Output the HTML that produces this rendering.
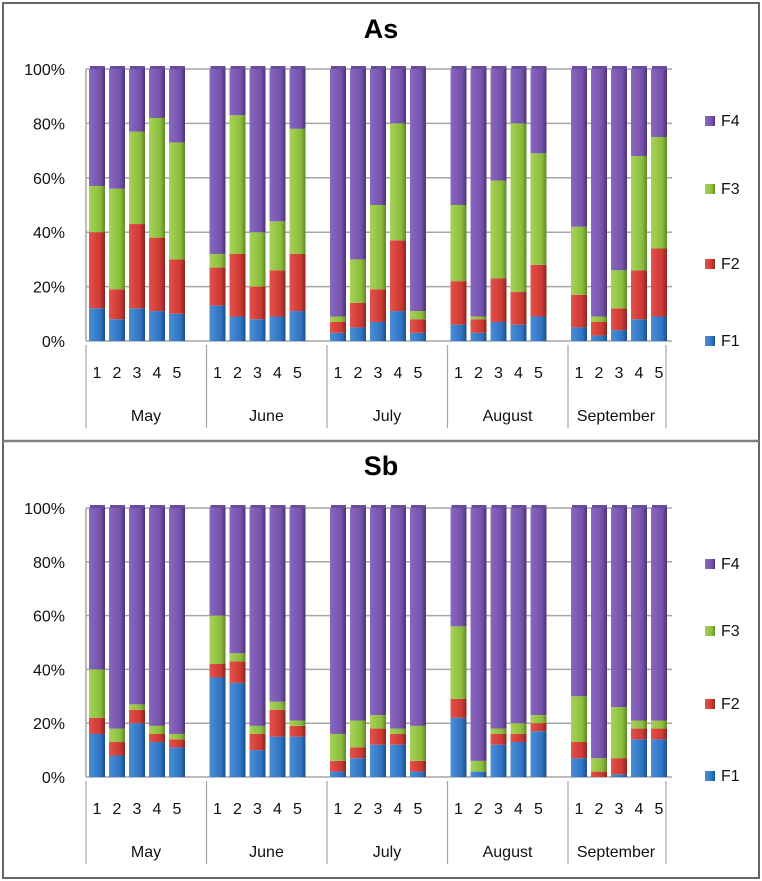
<!DOCTYPE html>
<html><head><meta charset="utf-8"><style>
html,body{margin:0;padding:0;background:#fff;}
svg{display:block;font-family:"Liberation Sans",sans-serif;}
</style></head><body>
<svg id="chart" width="762" height="881" viewBox="0 0 762 881" xmlns="http://www.w3.org/2000/svg">
<defs>
<linearGradient id="g0" x1="0" x2="1" y1="0" y2="0"><stop offset="0" stop-color="#4a8ed6"/><stop offset="0.7" stop-color="#2f74c4"/><stop offset="1" stop-color="#1c4f8a"/></linearGradient>
<linearGradient id="g1" x1="0" x2="1" y1="0" y2="0"><stop offset="0" stop-color="#e4504a"/><stop offset="0.7" stop-color="#cc3a33"/><stop offset="1" stop-color="#8e2420"/></linearGradient>
<linearGradient id="g2" x1="0" x2="1" y1="0" y2="0"><stop offset="0" stop-color="#a6d257"/><stop offset="0.7" stop-color="#8cbd3d"/><stop offset="1" stop-color="#5e8a24"/></linearGradient>
<linearGradient id="g3" x1="0" x2="1" y1="0" y2="0"><stop offset="0" stop-color="#8a68bf"/><stop offset="0.7" stop-color="#7552ab"/><stop offset="1" stop-color="#4d3378"/></linearGradient>
</defs>
<rect x="3" y="3" width="756" height="875" fill="#fff" stroke="#666" stroke-width="2"/>
<line x1="3" y1="441" x2="759" y2="441" stroke="#808080" stroke-width="2.5"/>
</svg>
<script>
const months = ["May","June","July","August","September"];
const samples = ["1","2","3","4","5"];
const seriesNames = ["F1","F2","F3","F4"];
const yTicks = [0,20,40,60,80,100];
const yTickLabels = ["0%","20%","40%","60%","80%","100%"];

const asF1 = [12,8,12,11,10, 13,9,8,9,11, 3,5,7,11,3, 6,3,7,6,9, 5,2,4,8,9];
const asF2 = [28,11,31,27,20, 14,23,12,17,21, 4,9,12,26,5, 16,5,16,12,19, 12,5,8,18,25];
const asF3 = [17,37,34,44,43, 5,51,20,18,46, 2,16,31,43,3, 28,1,36,62,41, 25,2,14,42,41];
const asF4 = [43,44,23,18,27, 68,17,60,56,22, 91,70,50,20,89, 50,91,41,20,31, 58,91,74,32,25];

const sbF1 = [16,8,20,13,11, 37,35,10,15,15, 2,7,12,12,2, 22,2,12,13,17, 7,0,1,14,14];
const sbF2 = [6,5,5,3,3, 5,8,6,10,4, 4,4,6,4,4, 7,0,4,3,3, 6,2,6,4,4];
const sbF3 = [18,5,2,3,2, 18,3,3,3,2, 10,10,5,2,13, 27,4,2,4,3, 17,5,19,3,3];
const sbF4 = [60,82,73,81,84, 40,54,81,72,79, 84,79,77,82,81, 44,94,82,80,77, 70,93,74,79,79];

const NS = "http://www.w3.org/2000/svg";
const svg = document.getElementById("chart");
function mk(tag, attrs, parent){
  const e = document.createElementNS(NS, tag);
  for (const k in attrs) e.setAttribute(k, attrs[k]);
  (parent||svg).appendChild(e);
  return e;
}

function drawPanel(key, title, series, p){
  const g = mk("g", {});
  
  
  const y = v => p.y0 - (p.y0 - p.y100) * v / 100;
  const t = mk("text", {x: 381, y: p.titleY, "text-anchor": "middle", "font-size": 27, "font-weight": "bold", fill: "#000"}, g);
  t.textContent = title;
  
  
  yTicks.forEach((v, i) => {
    const ln = mk("line", {x1: 86, x2: 672, y1: y(v), y2: y(v), stroke: "#a6a6a6", "stroke-width": 1.5}, g);
    
    
    const lb = mk("text", {x: 65, y: y(v) + 6, "text-anchor": "end", "font-size": 16, fill: "#111"}, g);
    lb.textContent = yTickLabels[i];
    
    
  });
  const wall = mk("line", {x1: 86, x2: 86, y1: y(100), y2: y(0), stroke: "#a6a6a6", "stroke-width": 1.5}, g);
  
  
  const n = series[0].length;
  for (let i = 0; i < n; i++){
    const gi = Math.floor(i / 5), bi = i % 5;
    const bx = 89 + gi * 120.5 + bi * 20;
    let total = 0; series.forEach(s => total += s[i]);
    let acc = 0;
    series.forEach((s, si) => {
      const v = s[i] / total * 100;
      const r = mk("rect", {x: bx, y: y(acc + v), width: 16, height: Math.max(0, y(acc) - y(acc + v)), fill: "url(#g" + si + ")"}, g);
      
      
      acc += v;
    });
    const cap = mk("rect", {x: bx + 1, y: y(100) - 3, width: 15, height: 3, fill: "#6a4d9a"}, g);
    
    
    const nl = mk("text", {x: bx + 8, y: p.numY, "text-anchor": "middle", "font-size": 16, fill: "#111"}, g);
    nl.textContent = samples[bi];
    
    
  }
  for (let m = 0; m <= months.length; m++){
    const sx = m < months.length ? 86 + m * 120.5 : 666;
    const sl = mk("line", {x1: sx, x2: sx, y1: p.y0 + 4, y2: p.sepBottom, stroke: "#a6a6a6", "stroke-width": 1.2}, g);
    
    
    if (m < months.length){
      const ml = mk("text", {x: m < 4 ? sx + 60 : 616, y: p.monY, "text-anchor": "middle", "font-size": 16, fill: "#111"}, g);
      ml.textContent = months[m];
      
      
    }
  }
  const order = [3,2,1,0];
  order.forEach((si, k) => {
    const ly = p.legY[k];
    const sw = mk("rect", {x: 705, y: ly - 10, width: 10, height: 10, fill: "url(#g" + si + ")"}, g);
    
    
    const lt = mk("text", {x: 721, y: ly, "font-size": 16, fill: "#111"}, g);
    lt.textContent = seriesNames[si];
    
    
  });
}

drawPanel("as", "As", [asF1, asF2, asF3, asF4],
  {titleY: 38, y0: 341, y100: 69, numY: 378, monY: 421, sepBottom: 428, legY: [126, 194, 269, 346]});
drawPanel("sb", "Sb", [sbF1, sbF2, sbF3, sbF4],
  {titleY: 475, y0: 777, y100: 508, numY: 814, monY: 857, sepBottom: 864, legY: [569, 636, 709, 781]});
</script>
</body></html>
